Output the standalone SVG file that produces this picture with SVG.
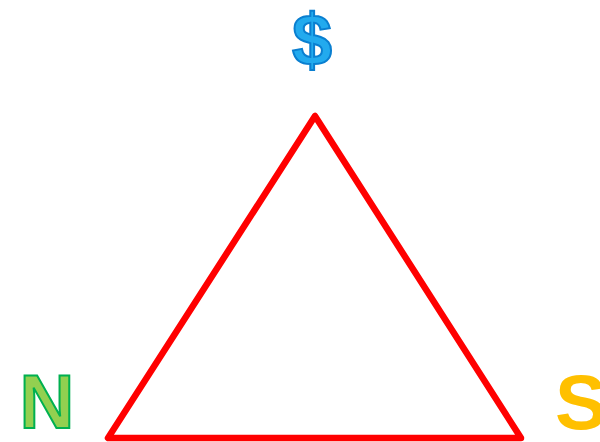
<svg xmlns="http://www.w3.org/2000/svg" width="600" height="442" viewBox="0 0 600 442">
<style>
.lbl{font-family:"Liberation Sans",Arial,sans-serif;font-weight:bold;}
</style>
<rect width="600" height="442" fill="#ffffff"/>
<g id="triangle">
<polygon points="315,116 108,438 521,438" fill="none" stroke="#ff0000" stroke-width="6.5" stroke-linejoin="round"/>
</g>
<g id="dollar">
<text class="lbl" x="312" y="65" font-size="72" text-anchor="middle" fill="#22aaee" stroke="#0a7fd0" stroke-width="2">$</text>
</g>
<g id="N">
<text class="lbl" x="47" y="428" font-size="76" text-anchor="middle" fill="#92d050" stroke="#00b050" stroke-width="2">N</text>
</g>
<g id="S">
<text class="lbl" x="555" y="429" font-size="78" fill="#ffc000">S</text>
</g>
</svg>
